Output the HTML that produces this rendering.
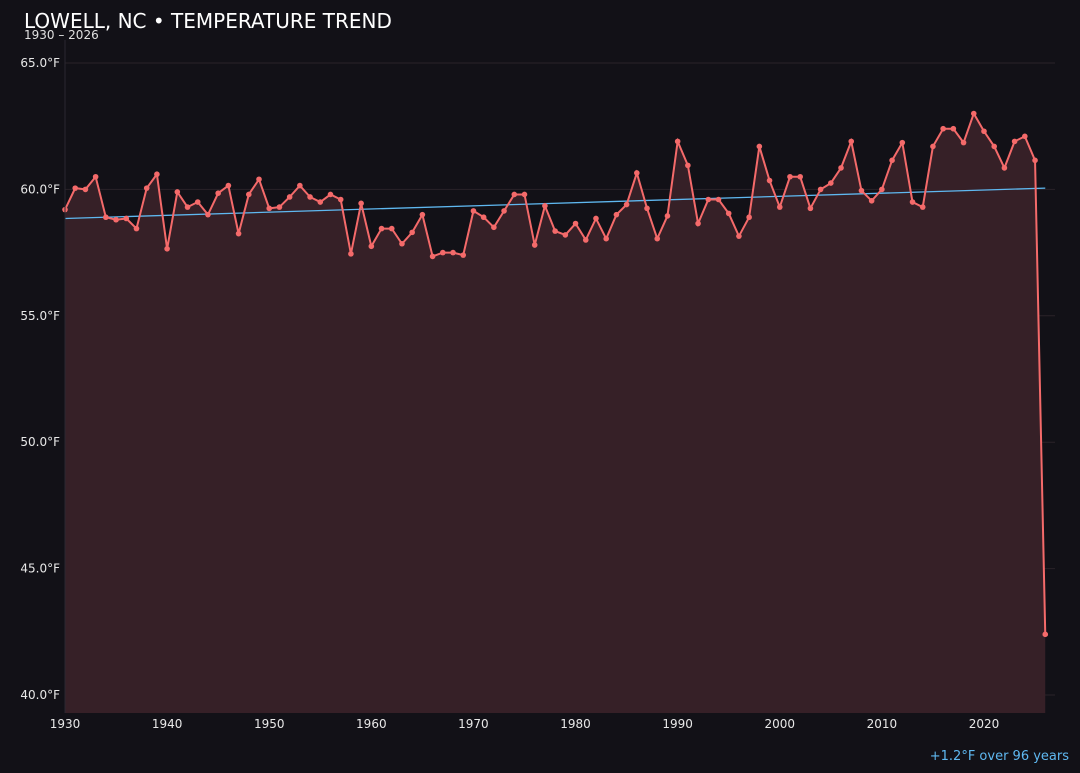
<!DOCTYPE html>
<html><head><meta charset="utf-8"><style>
body{margin:0;background:#121117;font-family:"Liberation Sans","DejaVu Sans",sans-serif;}
svg text{font-family:"DejaVu Sans","Liberation Sans",sans-serif;}
</style></head><body>
<svg id="c" width="1080" height="768" xmlns="http://www.w3.org/2000/svg">
<rect width="1080" height="768" fill="#121117"/>
<text x="24" y="28" fill="#ffffff" font-size="20">LOWELL, NC • TEMPERATURE TREND</text>
<text x="24" y="39" fill="#e0e0e0" font-size="12">1930 – 2026</text>
<text x="1069" y="760" fill="#5fb8f0" font-size="13" text-anchor="end">+1.2°F over 96 years</text>
<g id="grid"></g><g id="plot"></g><g id="axes"></g>
</svg>
<script>
const startYear = 1930;
const temps = [59.2,60.05,60.0,60.5,58.9,58.8,58.85,58.45,60.05,60.6,
57.65,59.9,59.3,59.5,59.0,59.85,60.15,58.25,59.8,60.4,
59.25,59.3,59.7,60.15,59.7,59.5,59.8,59.6,57.45,59.45,
57.75,58.45,58.45,57.85,58.3,59.0,57.35,57.5,57.5,57.4,
59.15,58.9,58.5,59.15,59.8,59.8,57.8,59.35,58.35,58.2,
58.65,58.0,58.85,58.05,59.0,59.4,60.65,59.25,58.05,58.95,
61.9,60.95,58.65,59.6,59.6,59.05,58.15,58.9,61.7,60.35,
59.3,60.5,60.5,59.25,60.0,60.25,60.85,61.9,59.95,59.55,
60.0,61.15,61.85,59.5,59.3,61.7,62.4,62.4,61.85,63.0,
62.3,61.7,60.85,61.9,62.1,61.15,42.4];
const trendStart = 58.85, trendEnd = 60.05;
const yTicks = [40,45,50,55,60,65];
const xTicks = [1930,1940,1950,1960,1970,1980,1990,2000,2010,2020];
const NS='http://www.w3.org/2000/svg';
const X0=65, X1=1055, Y0=713;
const xs = yr => 65 + (yr-1930)*10.211;
const ys = v => 695 - (v-40)*25.28;
function mk(tag, attrs, parent){const e=document.createElementNS(NS,tag);for(const k in attrs)e.setAttribute(k,attrs[k]);document.getElementById(parent).appendChild(e);return e;}
yTicks.forEach(t=>{
  const l=mk('line',{x1:X0,x2:X1,y1:ys(t),y2:ys(t),stroke:'#2a2228','stroke-width':1},'grid');
  
  
  const tx=mk('text',{x:60,y:ys(t)+4,fill:'#e8e8e8','font-size':12,'text-anchor':'end'},'axes');
  tx.textContent=t.toFixed(1)+'°F';
  
  
});
xTicks.forEach(t=>{
  const tx=mk('text',{x:xs(t),y:728,fill:'#e8e8e8','font-size':12,'text-anchor':'middle'},'axes');
  tx.textContent=t;
  
  
});
const ax=mk('line',{x1:X0,x2:X0,y1:40,y2:Y0,stroke:'#2a2830'},'axes');


const pts=temps.map((v,i)=>[xs(startYear+i),ys(v)]);
const lastX=pts[pts.length-1][0];
const area=mk('path',{d:'M'+X0+','+Y0+' L'+pts.map(p=>p.join(',')).join(' L')+' L'+lastX+','+Y0+' Z',fill:'#362027'},'plot');


const lastYear=startYear+temps.length-1;
const tr=mk('line',{x1:xs(startYear),y1:ys(trendStart),x2:xs(lastYear),y2:ys(trendEnd),stroke:'#5fb8f0','stroke-width':1.3},'plot');


const ln=mk('polyline',{points:pts.map(p=>p.join(',')).join(' '),fill:'none',stroke:'#f46a6a','stroke-width':2},'plot');


pts.forEach(p=>{
  const c=mk('circle',{cx:p[0],cy:p[1],r:2.8,fill:'#f46a6a'},'plot');
  
  
});
</script>
</body></html>
